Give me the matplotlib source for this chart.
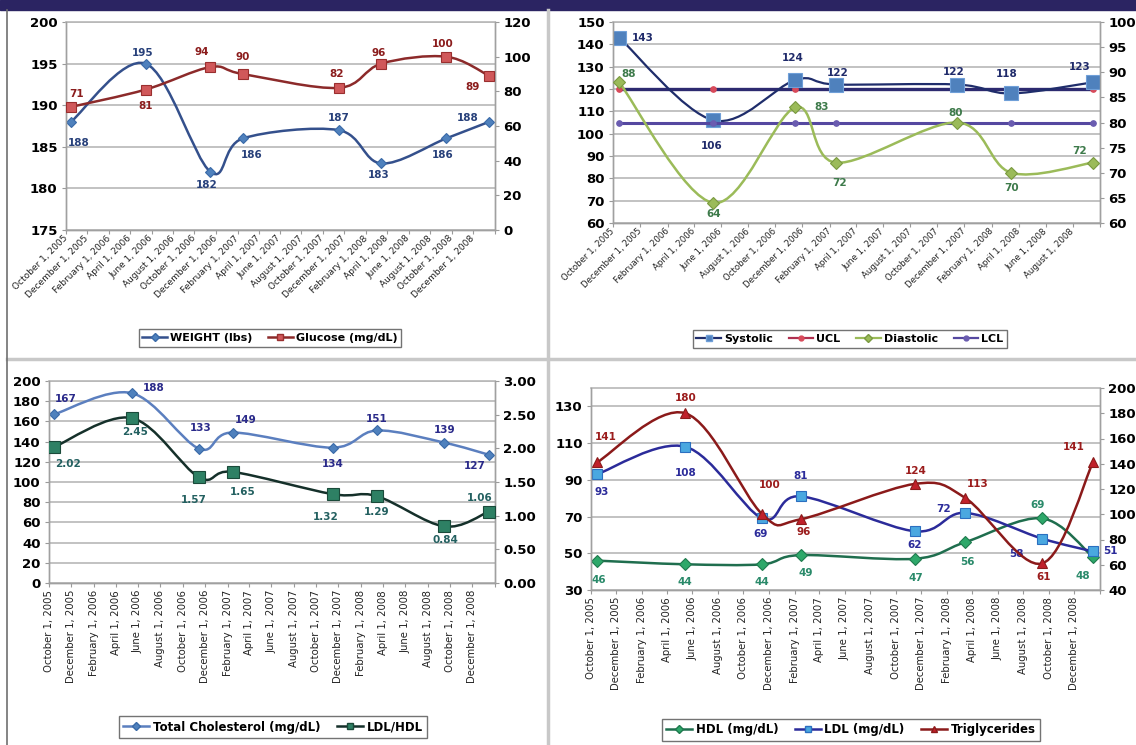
import matplotlib
matplotlib.use("Agg")
import matplotlib.pyplot as plt
import matplotlib.dates as mdates
from matplotlib.path import Path
from matplotlib.patches import PathPatch, Rectangle
from matplotlib.lines import Line2D
from datetime import datetime
import numpy as np

# ---------------- data ----------------
visit_dates = ["2005-10-15", "2006-05-15", "2006-11-15", "2007-02-15",
               "2007-11-15", "2008-03-15", "2008-09-15", "2009-01-15"]
bp_dates = ["2005-10-15", "2006-05-15", "2006-11-15", "2007-02-15",
            "2007-11-15", "2008-03-15", "2008-09-15"]

weight = [188, 195, 182, 186, 187, 183, 186, 188]
glucose = [71, 81, 94, 90, 82, 96, 100, 89]

systolic = [143, 106, 124, 122, 122, 118, 123]
ucl = [120, 120, 120, 120, 120, 120, 120]
diastolic = [88, 64, 83, 72, 80, 70, 72]
lcl = [80, 80, 80, 80, 80, 80, 80]

total_chol = [167, 188, 133, 149, 134, 151, 139, 127]
ldl_hdl = [2.02, 2.45, 1.57, 1.65, 1.32, 1.29, 0.84, 1.06]

hdl = [46, 44, 44, 49, 47, 56, 69, 48]
ldl = [93, 108, 69, 81, 62, 72, 58, 51]
trig = [141, 180, 100, 96, 124, 113, 61, 141]

tick_labels = ["October 1, 2005", "December 1, 2005", "February 1, 2006", "April 1, 2006",
               "June 1, 2006", "August 1, 2006", "October 1, 2006", "December 1, 2006",
               "February 1, 2007", "April 1, 2007", "June 1, 2007", "August 1, 2007",
               "October 1, 2007", "December 1, 2007", "February 1, 2008", "April 1, 2008",
               "June 1, 2008", "August 1, 2008", "October 1, 2008", "December 1, 2008"]
bp_tick_labels = tick_labels[:18]

# ---------------- helpers ----------------
W, H = 1136, 745
fig = plt.figure(figsize=(W / 100, H / 100), dpi=100, facecolor="white")


def d2n(strs):
    return mdates.date2num([datetime.strptime(s, "%Y-%m-%d") for s in strs])


def lab2n(strs):
    return mdates.date2num([datetime.strptime(s, "%B %d, %Y") for s in strs])


def smooth_path(x, y):
    pts = np.column_stack([x, y]).astype(float)
    n = len(pts)
    verts = [pts[0]]
    codes = [Path.MOVETO]
    for i in range(n - 1):
        p0 = pts[i - 1] if i > 0 else pts[i]
        p1 = pts[i]
        p2 = pts[i + 1]
        p3 = pts[i + 2] if i + 2 < n else pts[i + 1]
        c1 = p1 + (p2 - p0) / 6.0
        c2 = p2 - (p3 - p1) / 6.0
        verts += [c1, c2, p2]
        codes += [Path.CURVE4] * 3
    return Path(verts, codes)


def series(ax, dates, vals, lc, lw, marker, ms, mfc, mec, tc, offsets,
           fmt="{:g}", smooth=True, z=3, fs=7.5):
    x = d2n(dates)
    if smooth:
        ax.add_patch(PathPatch(smooth_path(x, vals), fc="none", ec=lc, lw=lw,
                               zorder=z, capstyle="round", joinstyle="round"))
    else:
        ax.plot(x, vals, color=lc, lw=lw, zorder=z)
    ax.plot(x, vals, ls="none", marker=marker, ms=ms, mfc=mfc, mec=mec,
            mew=0.8, zorder=z + 1)
    if offsets is not None:
        for xi, v, (dx, dy) in zip(x, vals, offsets):
            ax.annotate(fmt.format(v), (xi, v), xytext=(dx, dy),
                        textcoords="offset pixels", ha="center", va="center",
                        fontsize=fs, fontweight="bold", color=tc, zorder=z + 2,
                        annotation_clip=False)


def setup(rect, xlim, tlabels, extra_tick, rot, xfs, yl, yt, yr, yrt, rfmt):
    l, t, r, b = rect
    ax = fig.add_axes([l / W, 1 - b / H, (r - l) / W, (b - t) / H])
    ax2 = ax.twinx()
    ax.set_xlim(*d2n(xlim))
    ticks = list(lab2n(tlabels)) + list(lab2n([extra_tick]))
    ax.set_xticks(ticks)
    ax.set_xticklabels(list(tlabels) + [""], fontsize=xfs, color="#222222")
    if rot == 45:
        for lab in ax.get_xticklabels():
            lab.set_rotation(45)
            lab.set_rotation_mode("anchor")
            lab.set_ha("right")
            lab.set_va("center")
    else:
        for lab in ax.get_xticklabels():
            lab.set_rotation(90)
            lab.set_ha("center")
            lab.set_va("top")
    ax.tick_params(axis="x", length=3, color="#9a9a9a", pad=2)
    ax.set_ylim(*yl)
    ax.set_yticks(yt)
    ax.set_yticklabels([str(v) for v in yt], fontsize=9.5, fontweight="bold")
    ax.tick_params(axis="y", length=3, color="#9a9a9a", pad=3)
    ax.grid(axis="y", color="#b8b8b8", lw=1.2)
    ax.set_axisbelow(True)
    ax2.set_ylim(*yr)
    ax2.set_yticks(yrt)
    ax2.set_yticklabels([rfmt(v) for v in yrt], fontsize=9.5, fontweight="bold")
    ax2.tick_params(axis="y", length=3, color="#9a9a9a", pad=3)
    for a in (ax, ax2):
        for s in a.spines.values():
            s.set_color("#a0a0a0")
            s.set_linewidth(1.0)
    ax.spines["top"].set_color("#b8b8b8")
    ax.spines["top"].set_linewidth(1.2)
    ax2.spines["top"].set_visible(False)
    ax.patch.set_alpha(0)
    return ax, ax2


def legend(handles, labels, cx, cy, fs=8):
    leg = fig.legend(handles, labels, loc="center",
                     bbox_to_anchor=(cx / W, 1 - cy / H), ncol=len(handles),
                     frameon=True, fancybox=False, edgecolor="#505050",
                     prop={"weight": "bold", "size": fs}, handlelength=2.2,
                     columnspacing=1.4, handletextpad=0.3, borderpad=0.35)
    leg.get_frame().set_linewidth(1.0)
    return leg


# ---------------- background decorations ----------------
fig.add_artist(Rectangle((0, 1 - 10 / H), 1, 10 / H, transform=fig.transFigure,
                         color="#2b2462", zorder=0))
fig.add_artist(Line2D([548 / W, 548 / W], [0, 1 - 10 / H], transform=fig.transFigure,
                      color="#c8c8c8", lw=2.5))
fig.add_artist(Line2D([7 / W, 1], [1 - 359 / H, 1 - 359 / H], transform=fig.transFigure,
                      color="#c8c8c8", lw=2.5))
fig.add_artist(Line2D([7 / W, 7 / W], [0, 1 - 10 / H], transform=fig.transFigure,
                      color="#707070", lw=1.2))

# ---------------- panel 1: weight & glucose ----------------
ax, ax2 = setup((66, 22, 495, 230), ["2005-10-01", "2009-02-01"], tick_labels,
                "February 1, 2009", 45, 6.5,
                (175, 200), [175, 180, 185, 190, 195, 200],
                (0, 120), [0, 20, 40, 60, 80, 100, 120], lambda v: str(v))
series(ax, visit_dates, weight, "#34508c", 1.8, "D", 5, "#4f81bd", "#3a6aa8", "#27407a",
       [(8, -21), (-3, 11), (-4, -13), (9, -17), (0, 12), (-3, -12), (-3, -17), (-21, 4)])
series(ax2, visit_dates, glucose, "#8c2a2a", 1.8, "s", 6.5, "#d0585a", "#9a2f2f", "#8b1c1c",
       [(6, 13), (0, -16), (-9, 15), (0, 17), (-2, 14), (-3, 11), (-3, 13), (-16, -11)])
legend([Line2D([], [], color="#34508c", lw=1.8, marker="D", ms=4, mfc="#4f81bd", mec="#3a6aa8"),
        Line2D([], [], color="#8c2a2a", lw=1.8, marker="s", ms=5, mfc="#d0585a", mec="#9a2f2f")],
       ["WEIGHT (lbs)", "Glucose (mg/dL)"], 270, 338)

# ---------------- panel 2: blood pressure ----------------
ax, ax2 = setup((613, 22, 1100, 223), ["2005-10-01", "2008-10-01"], bp_tick_labels,
                "October 1, 2008", 45, 6.2,
                (60, 150), [60, 70, 80, 90, 100, 110, 120, 130, 140, 150],
                (60, 100), [60, 65, 70, 75, 80, 85, 90, 95, 100], lambda v: str(v))
series(ax, bp_dates, ucl, "#2d2a70", 2.4, "o", 4, "#d84a5a", "#d84a5a", None, None,
       smooth=False, z=3)
series(ax, bp_dates, systolic, "#1f2d6b", 1.6, "s", 9.5, "#4f81bd", "#6f9fd8", "#1f2a6a",
       [(24, 0), (-2, -26), (-2, 22), (2, 12), (-4, 13), (-4, 19), (-13, 15)], z=5)
series(ax2, bp_dates, lcl, "#5548a0", 2.2, "o", 4, "#6a5cb0", "#6a5cb0", None, None,
       smooth=False, z=2)
series(ax2, bp_dates, diastolic, "#9bbb59", 1.8, "D", 6, "#9bbb59", "#7a9a40", "#3d7a4a",
       [(9, 8), (0, -11), (26, 0), (4, -20), (-2, 10), (0, -15), (-13, 12)], z=3)
legend([Line2D([], [], color="#1f2d6b", lw=1.6, marker="s", ms=5, mfc="#4f81bd", mec="#6f9fd8"),
        Line2D([], [], color="#b03050", lw=1.6, marker="o", ms=3.5, mfc="#d84a5a", mec="#d84a5a"),
        Line2D([], [], color="#9bbb59", lw=1.6, marker="D", ms=4, mfc="#9bbb59", mec="#7a9a40"),
        Line2D([], [], color="#5548a0", lw=1.6, marker="o", ms=3.5, mfc="#6a5cb0", mec="#6a5cb0")],
       ["Systolic", "UCL", "Diastolic", "LCL"], 850, 339)

# ---------------- panel 3: cholesterol ----------------
ax, ax2 = setup((49, 381, 495, 583), ["2005-10-01", "2009-02-01"], tick_labels,
                "February 1, 2009", 90, 7.3,
                (0, 200), [0, 20, 40, 60, 80, 100, 120, 140, 160, 180, 200],
                (0, 3), [0, 0.5, 1.0, 1.5, 2.0, 2.5, 3.0], lambda v: f"{v:.2f}")
series(ax, visit_dates, total_chol, "#5b7fbf", 1.8, "D", 5, "#4f81bd", "#3a6aa8", "#2a2a8a",
       [(12, 15), (22, 5), (2, 21), (13, 13), (0, -16), (0, 11), (0, 13), (-14, -11)])
series(ax2, visit_dates, ldl_hdl, "#15302a", 1.8, "s", 8, "#2e8064", "#1a4a3a", "#236060",
       [(14, -17), (3, -14), (-5, -23), (10, -20), (-7, -23), (0, -16), (1, -14), (-9, 14)],
       fmt="{:.2f}")
legend([Line2D([], [], color="#5b7fbf", lw=1.8, marker="D", ms=4, mfc="#4f81bd", mec="#3a6aa8"),
        Line2D([], [], color="#15302a", lw=1.8, marker="s", ms=5, mfc="#2e8064", mec="#1a4a3a")],
       ["Total Cholesterol (mg/dL)", "LDL/HDL"], 273, 727, fs=8.5)

# ---------------- panel 4: lipids ----------------
ax, ax2 = setup((591, 388, 1100, 590), ["2005-10-01", "2009-02-01"], tick_labels,
                "February 1, 2009", 90, 7.3,
                (30, 140), [30, 50, 70, 90, 110, 130],
                (40, 200), [40, 60, 80, 100, 120, 140, 160, 180, 200], lambda v: str(v))
series(ax, visit_dates, hdl, "#1f6e4e", 1.8, "D", 6.5, "#2ea86a", "#1f7a4e", "#2a8a6a",
       [(2, -19), (0, -18), (0, -18), (5, -18), (1, -19), (2, -20), (-4, 13), (-10, -19)])
series(ax, visit_dates, ldl, "#2b2b9a", 1.8, "s", 7.5, "#4aa8e0", "#2b6fc0", "#2b2b9a",
       [(5, -18), (0, -26), (-2, -16), (0, 20), (0, -14), (-22, 4), (-26, -15), (18, 0)], z=5)
series(ax2, visit_dates, trig, "#8b1a1a", 1.8, "^", 7, "#c0202a", "#8b1a1a", "#9b1c1c",
       [(9, 25), (0, 15), (7, 29), (3, -13), (1, 13), (13, 14), (2, -14), (-19, 15)])
legend([Line2D([], [], color="#1f6e4e", lw=1.8, marker="D", ms=4, mfc="#2ea86a", mec="#1f7a4e"),
        Line2D([], [], color="#2b2b9a", lw=1.8, marker="s", ms=5, mfc="#4aa8e0", mec="#2b6fc0"),
        Line2D([], [], color="#8b1a1a", lw=1.8, marker="^", ms=5, mfc="#c0202a", mec="#8b1a1a")],
       ["HDL (mg/dL)", "LDL (mg/dL)", "Triglycerides"], 851, 730, fs=8.5)

fig.savefig("out.png", dpi=100, facecolor="white")
